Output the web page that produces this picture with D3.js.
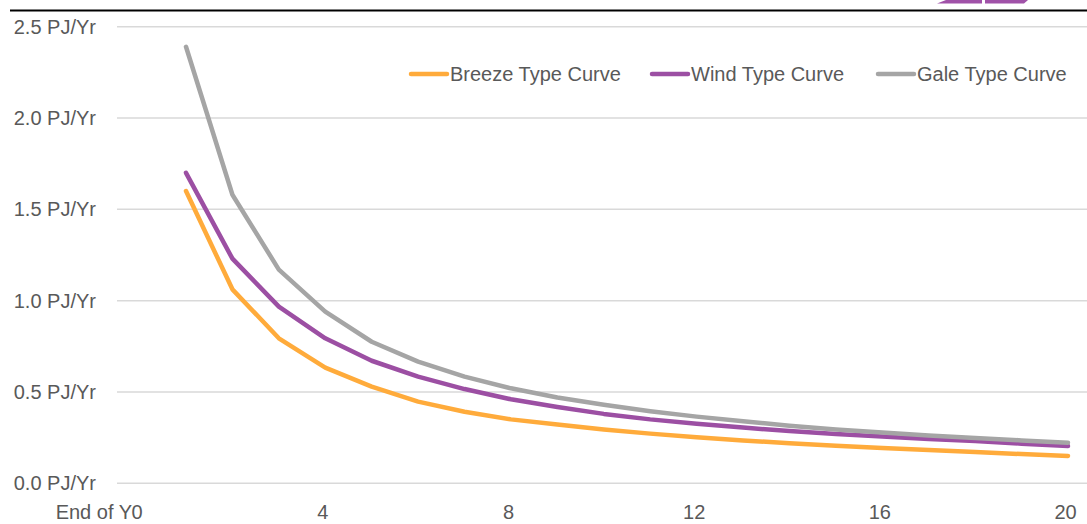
<!DOCTYPE html>
<html>
<head>
<meta charset="utf-8">
<script src="https://cdn.jsdelivr.net/npm/d3@7"></script>
<style>
  body { margin: 0; background: #fff; }
  text { font-family: "Liberation Sans", Arial, sans-serif; fill: #595959; }
</style>
</head>
<body>
<div id="chart"></div>
<script>
// Valeurs (PJ/an en fin d'année 1 à 20)
const years = d3.range(1, 21);
const breeze = [1.60, 1.062, 0.794, 0.633, 0.529, 0.447, 0.392, 0.35, 0.322, 0.295,
                0.272, 0.252, 0.235, 0.219, 0.205, 0.193, 0.182, 0.171, 0.160, 0.150];
const wind = [1.70, 1.23, 0.967, 0.794, 0.671, 0.584, 0.516, 0.46, 0.418, 0.38,
              0.35, 0.326, 0.305, 0.286, 0.27, 0.256, 0.243, 0.231, 0.217, 0.204];
const gale = [2.39, 1.58, 1.17, 0.94, 0.775, 0.666, 0.584, 0.52, 0.47, 0.43,
              0.395, 0.365, 0.34, 0.315, 0.295, 0.278, 0.262, 0.248, 0.235, 0.222];
const seriesNames = ["Breeze Type Curve", "Wind Type Curve", "Gale Type Curve"];
const yTicks = [0, 0.5, 1.0, 1.5, 2.0, 2.5];
const xTicks = [0, 4, 8, 12, 16, 20];

const width = 1087, height = 524,
    colors = ["#ffab3b", "#9c4fa3", "#a5a5a5"],
    lineWidth = 4.5;

const svg = d3.select("#chart").append("svg")
    .attr("width", width)
    .attr("height", height);

const x = d3.scaleLinear().domain([1, 20]).range([186, 1068]);
const y = d3.scaleLinear().domain([0, 2.5]).range([483.3, 26.7]);

// bandeau du haut
svg.append("line")
    .attr("x1", 10).attr("x2", width)
    .attr("y1", 10.5).attr("y2", 10.5)
    .style("stroke", "#000").style("stroke-width", 2);

svg.append("polygon")
    .attr("points", "937,3.5 982,3.5 982,0 946,0")
    .style("fill", "#a052a8");
svg.append("polygon")
    .attr("points", "985,3.5 1024,3.5 1028,0 985,0")
    .style("fill", "#a052a8");

// grille horizontale
svg.selectAll("line.grid")
    .data(yTicks)
    .enter().append("line")
    .attr("class", "grid")
    .attr("x1", 117).attr("x2", width)
    .attr("y1", d => y(d)).attr("y2", d => y(d))
    .style("stroke", "#d9d9d9")
    .style("stroke-width", 1.5);

svg.selectAll("text.ylab")
    .data(yTicks)
    .enter().append("text")
    .attr("class", "ylab")
    .attr("x", 96)
    .attr("y", d => y(d))
    .attr("dy", "0.35em")
    .attr("text-anchor", "end")
    .style("font-size", "20px")
    .text(d => d3.format(".1f")(d) + " PJ/Yr");

// axe des abscisses (sans trait)
const xAxis = svg.append("g")
    .attr("transform", "translate(-3,500)")
    .call(d3.axisBottom(x).tickValues(xTicks).tickSize(0).tickFormat(d3.format("d")));
xAxis.select(".domain").remove();
xAxis.selectAll("text")
    .attr("y", 0)
    .attr("dy", "0.97em")
    .style("font-size", "20px")
    .style("font-family", "Liberation Sans, Arial, sans-serif")
    .style("fill", "#595959");

svg.append("text")
    .attr("x", 132)
    .attr("y", 500)
    .attr("dy", "0.97em")
    .attr("text-anchor", "end")
    .style("font-size", "20px")
    .text("End of Y");

// courbes
const line = d3.line()
    .x((d, i) => x(years[i]))
    .y(d => y(d));

svg.selectAll("path.curve")
    .data([breeze, wind, gale])
    .enter().append("path")
    .attr("class", "curve")
    .attr("d", line)
    .style("fill", "none")
    .style("stroke", (d, i) => colors[i])
    .style("stroke-width", lineWidth)
    .style("stroke-linecap", "round")
    .style("stroke-linejoin", "round");

// légende
const legendX = [411, 652, 878];
const legend = svg.append("g");
legend.selectAll("line")
    .data(seriesNames)
    .enter().append("line")
    .attr("x1", (d, i) => legendX[i])
    .attr("x2", (d, i) => legendX[i] + 36)
    .attr("y1", 74).attr("y2", 74)
    .style("stroke", (d, i) => colors[i])
    .style("stroke-width", lineWidth)
    .style("stroke-linecap", "round");
legend.selectAll("text")
    .data(seriesNames)
    .enter().append("text")
    .attr("x", (d, i) => legendX[i] + 39)
    .attr("y", 74)
    .attr("dy", "0.35em")
    .style("font-size", "20px")
    .text(d => d);
</script>
</body>
</html>
